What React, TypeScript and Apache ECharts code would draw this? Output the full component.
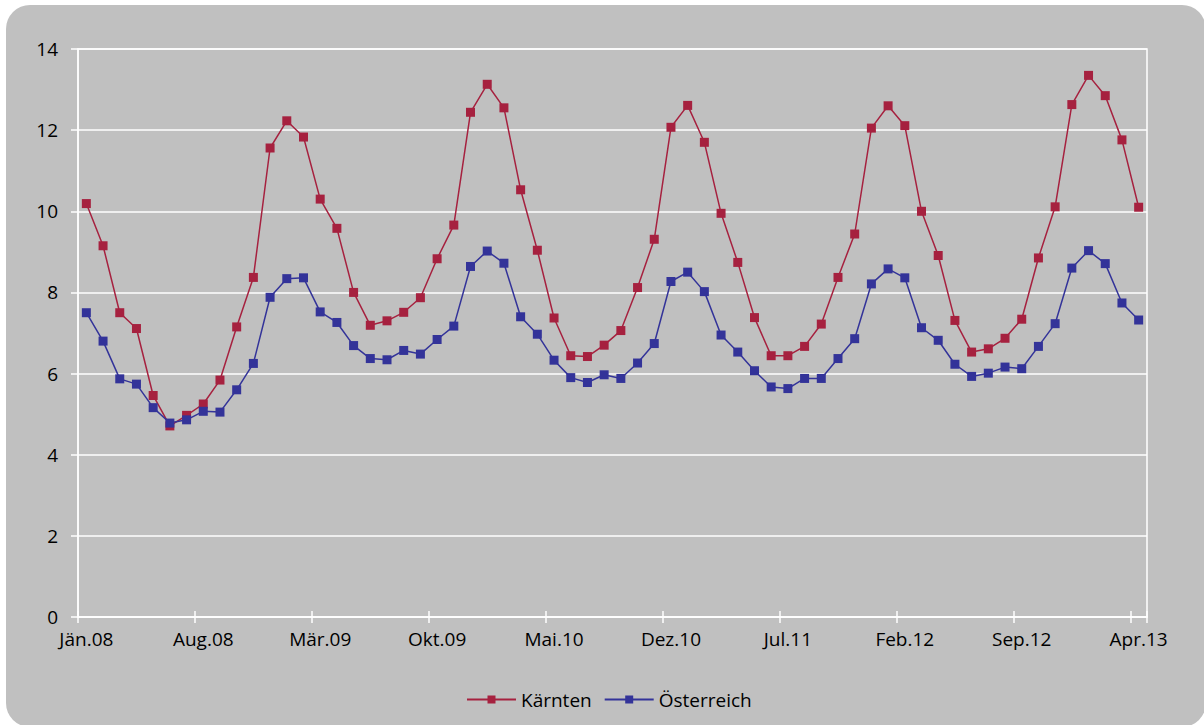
import React, { useEffect, useRef } from "react";
import * as echarts from "echarts";

const monthNames = ["Jän", "Feb", "Mär", "Apr", "Mai", "Jun", "Jul", "Aug", "Sep", "Okt", "Nov", "Dez"];
const startYear = 2008;
const monthCount = 64;
const categories: string[] = [];
for (let i = 0; i < monthCount; i++) {
  const m = i % 12;
  const y = startYear + Math.floor(i / 12);
  categories.push(`${monthNames[m]}.${String(y % 100).padStart(2, "0")}`);
}

const kaernten = [
  10.19, 9.15, 7.5, 7.11, 5.46, 4.71, 4.97, 5.25, 5.84, 7.15,
  8.37, 11.56, 12.23, 11.83, 10.3, 9.58, 8.0, 7.19, 7.3, 7.51,
  7.87, 8.83, 9.66, 12.44, 13.13, 12.55, 10.53, 9.04, 7.37, 6.44,
  6.42, 6.7, 7.06, 8.12, 9.31, 12.07, 12.61, 11.7, 9.95, 8.74,
  7.38, 6.44, 6.44, 6.67, 7.22, 8.37, 9.44, 12.05, 12.6, 12.11,
  10.0, 8.91, 7.31, 6.53, 6.61, 6.87, 7.34, 8.85, 10.11, 12.63,
  13.35, 12.85, 11.76, 10.1,
];

const oesterreich = [
  7.5, 6.8, 5.87, 5.74, 5.16, 4.78, 4.86, 5.07, 5.05, 5.6,
  6.25, 7.88, 8.34, 8.36, 7.52, 7.26, 6.69, 6.37, 6.34, 6.57,
  6.48, 6.84, 7.17, 8.64, 9.02, 8.72, 7.4, 6.97, 6.33, 5.9,
  5.78, 5.97, 5.88, 6.26, 6.74, 8.27, 8.5, 8.02, 6.95, 6.53,
  6.07, 5.67, 5.63, 5.88, 5.88, 6.37, 6.86, 8.21, 8.58, 8.36,
  7.13, 6.82, 6.23, 5.93, 6.01, 6.16, 6.12, 6.67, 7.23, 8.6,
  9.03, 8.71, 7.74, 7.32,
];

const FONT = "'Open Sans', 'Noto Sans', sans-serif";
const RED = "#A6213F";
const BLUE = "#333399";

export default function App() {
  const ref = useRef<HTMLDivElement>(null);

  useEffect(() => {
    if (!ref.current) return;
    const chart = echarts.init(ref.current, undefined, { renderer: "svg" });
    const textStyle = { color: "#000", fontFamily: FONT, fontSize: 19 };
    chart.setOption({
      animation: false,
      backgroundColor: "transparent",
      textStyle: { fontFamily: FONT },
      grid: {
        left: 78,
        right: 57,
        top: 49,
        bottom: 108,
        show: true,
        borderColor: "#ffffff",
        borderWidth: 1.5,
        backgroundColor: "transparent",
      },
      legend: {
        left: 461,
        top: 685,
        itemWidth: 49,
        itemHeight: 10,
        itemGap: 12,
        textStyle: { ...textStyle },
        data: ["Kärnten", "Österreich"],
      },
      xAxis: [
        {
          type: "category",
          data: categories,
          boundaryGap: true,
          axisLine: { show: true, lineStyle: { color: "#ffffff", width: 1.5 } },
          axisTick: { show: true, interval: 6, length: 6, lineStyle: { color: "#ffffff", width: 1.5 } },
          axisLabel: { interval: 6, margin: 12, ...textStyle },
          splitLine: { show: false },
        },
        {
          type: "category",
          data: categories,
          boundaryGap: true,
          position: "bottom",
          axisLine: { show: false },
          axisTick: { show: true, inside: true, interval: 6, length: 6, lineStyle: { color: "#ffffff", width: 1.5 } },
          axisLabel: { show: false },
          splitLine: { show: false },
        },
      ],
      yAxis: {
        type: "value",
        min: 0,
        max: 14,
        interval: 2,
        axisLine: { show: true, lineStyle: { color: "#ffffff", width: 1.5 } },
        axisTick: { show: true, length: 7, lineStyle: { color: "#ffffff", width: 1.5 } },
        axisLabel: { margin: 20, ...textStyle },
        splitLine: { show: true, lineStyle: { color: "#ffffff", width: 1.5 } },
      },
      series: [
        {
          name: "Kärnten",
          type: "line",
          data: kaernten,
          symbol: "rect",
          symbolSize: 9,
          showAllSymbol: true,
          lineStyle: { color: RED, width: 1.5 },
          itemStyle: { color: RED },
        },
        {
          name: "Österreich",
          type: "line",
          data: oesterreich,
          symbol: "rect",
          symbolSize: 9,
          showAllSymbol: true,
          lineStyle: { color: BLUE, width: 1.5 },
          itemStyle: { color: BLUE },
        },
      ],
    });
    return () => chart.dispose();
  }, []);

  return (
    <div style={{ position: "fixed", left: 0, top: 0, width: 1204, height: 725, background: "#ffffff", overflow: "hidden" }}>
      <div
        style={{
          position: "absolute",
          left: 6,
          top: 5,
          width: 1200,
          height: 722,
          borderRadius: 24,
          background: "#C0C0C0",
        }}
      />
      <div ref={ref} style={{ position: "absolute", left: 0, top: 0, width: 1204, height: 725 }} />
    </div>
  );
}
